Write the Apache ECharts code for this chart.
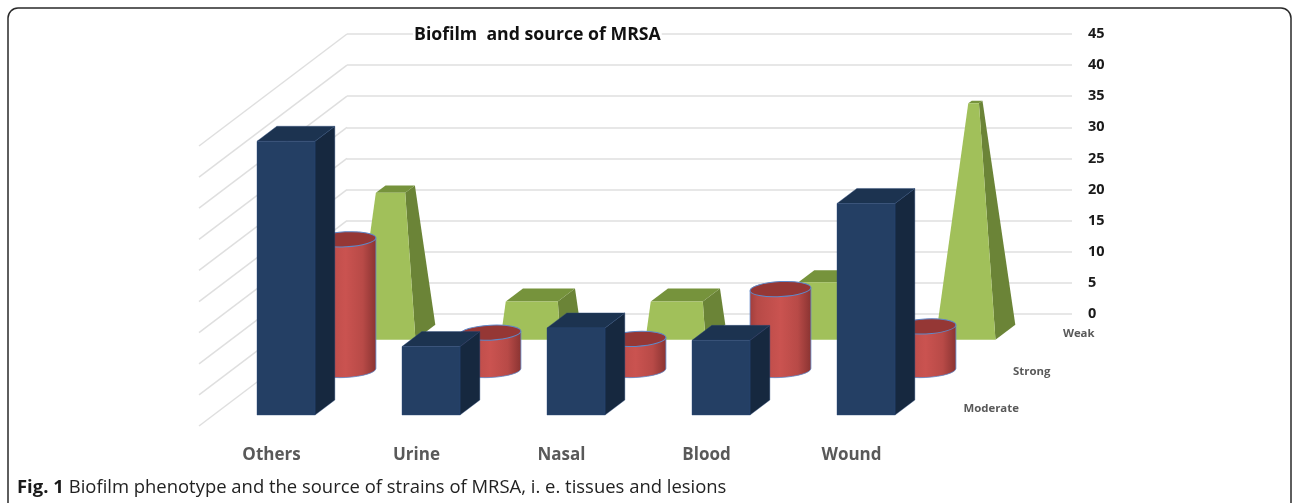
<!DOCTYPE html>
<html>
<head>
<meta charset="utf-8">
<style>html,body{margin:0;padding:0;background:#fff}#c{width:1295px;height:503px}</style>
<script src="https://cdn.jsdelivr.net/npm/echarts@6/dist/echarts.min.js"></script>
</head>
<body>
<div id="c"></div>
<script>
var categories = ['Others', 'Urine', 'Nasal', 'Blood', 'Wound'];
var depthNames = ['Moderate', 'Strong', 'Weak'];
var moderate = [44, 11, 14, 12, 34];
var strong = [21, 6, 5, 13, 7];
var weak = [23, 6, 6, 9, 37];
var yTicks = [0, 5, 10, 15, 20, 25, 30, 35, 40, 45];
var yMax = 45;

var WALL_DX = 148, WALL_DY = 112;
var DEPTH_CENTRE = [0.165, 0.5, 0.837];
var THICK = 0.134;

function point(cx, baseY, valY, u, d) {
  return [cx + u + d * WALL_DX, valY - d * WALL_DY];
}

function prism(widthRatio, depthCentre, taper, cols) {
  return function (params, api) {
    var i = api.value(0), v = api.value(1);
    var c0 = api.coord([i, 0]), c1 = api.coord([i, v]);
    var band = api.size([1, 0])[0];
    var hw = band * widthRatio / 2;
    var f = taper ? 1 - v / yMax : 1;
    var cx = c0[0];
    var dFront = depthCentre - THICK / 2, dBack = depthCentre + THICK / 2;
    var dTF = depthCentre - THICK / 2 * f, dTB = depthCentre + THICK / 2 * f;
    var A = point(cx, 0, c0[1], -hw, dFront), B = point(cx, 0, c0[1], hw, dFront), C = point(cx, 0, c0[1], hw, dBack);
    var D = point(cx, 0, c1[1], -hw * f, dTF), E = point(cx, 0, c1[1], hw * f, dTF);
    var F = point(cx, 0, c1[1], hw * f, dTB), G = point(cx, 0, c1[1], -hw * f, dTB);
    return {
      type: 'group',
      children: [
        { type: 'polygon', shape: { points: [B, C, F, E] }, style: { fill: cols.side, stroke: cols.edge, lineWidth: cols.lw } },
        { type: 'polygon', shape: { points: [D, E, F, G] }, style: { fill: cols.top, stroke: cols.edge, lineWidth: cols.lw } },
        { type: 'polygon', shape: { points: [A, B, E, D] }, style: { fill: cols.front, stroke: cols.edge, lineWidth: cols.lw } }
      ]
    };
  };
}

function cylinder(widthRatio, depthCentre) {
  var tilt = 3 * Math.PI / 180, ry = 7.5;
  return function (params, api) {
    var i = api.value(0), v = api.value(1);
    var c0 = api.coord([i, 0]), c1 = api.coord([i, v]);
    var rx = api.size([1, 0])[0] * widthRatio / 2;
    var cx = c0[0] + depthCentre * WALL_DX;
    var yB = c0[1] - depthCentre * WALL_DY, yT = c1[1] - depthCentre * WALL_DY;
    var ox = rx * Math.cos(tilt), oy = rx * Math.sin(tilt);
    var path = 'M' + (cx - ox) + ' ' + (yT + oy) + ' L' + (cx - ox) + ' ' + (yB + oy) +
      ' A' + rx + ' ' + ry + ' -3 0 0 ' + (cx + ox) + ' ' + (yB - oy) +
      ' L' + (cx + ox) + ' ' + (yT - oy) + ' Z';
    return {
      type: 'group',
      children: [
        { type: 'path', shape: { pathData: path, layout: 'none' }, style: {
          stroke: '#5f88c8', lineWidth: 0.8,
          fill: { type: 'linear', x: 0, y: 0, x2: 1, y2: 0, colorStops: [
            { offset: 0, color: '#a03e3c' }, { offset: 0.12, color: '#b74a47' }, { offset: 0.5, color: '#ca5350' },
            { offset: 0.78, color: '#b84a47' }, { offset: 1, color: '#893331' }] }
        } },
        { type: 'ellipse', shape: { cx: cx, cy: yT, rx: rx, ry: ry }, rotation: tilt, originX: cx, originY: yT,
          style: { fill: '#953735', stroke: '#5f88c8', lineWidth: 1 } }
      ]
    };
  };
}

function pairs(arr) { return arr.map(function (v, i) { return [i, v]; }); }

var option = {
  animation: false,
  backgroundColor: '#fff',
  title: [
    { text: 'Biofilm  and source of MRSA', left: 413, top: 24.5, padding: [0, 1],
      backgroundColor: '#fff',
      textStyle: { fontFamily: 'Open Sans', fontWeight: 'bold', fontSize: 17.7, color: '#111', lineHeight: 20 } },
    { text: '{b|Fig. 1} {r|Biofilm phenotype and the source of strains of MRSA, i. e. tissues and lesions}',
      left: 17, top: 478.5, padding: 0,
      textStyle: { fontWeight: 'normal', rich: {
        b: { fontFamily: 'Open Sans', fontWeight: 'bold', fontSize: 18.45, color: '#1a1a1a' },
        r: { fontFamily: 'Open Sans', fontWeight: 'normal', fontSize: 18.45, color: '#222' } } } }
  ],
  grid: [
    { left: 347, right: 223, top: 34, bottom: 189 },
    { left: 199, right: 371, top: 146, bottom: 77 }
  ],
  xAxis: [
    { gridIndex: 0, type: 'category', data: categories, show: false },
    { gridIndex: 1, type: 'category', data: categories,
      axisLine: { show: false }, axisTick: { show: false },
      axisLabel: { margin: 21, fontFamily: 'Open Sans', fontWeight: 'bold', fontSize: 17, color: '#595959' } }
  ],
  yAxis: [
    { gridIndex: 0, type: 'value', min: 0, max: yMax, interval: 5, position: 'right',
      axisLine: { show: false }, axisTick: { show: false },
      axisLabel: { margin: 16, fontFamily: 'Open Sans', fontWeight: 'bold', fontSize: 14.5, color: '#1a1a1a' },
      splitLine: { show: true, lineStyle: { color: '#dfdfdf', width: 1.5 } } },
    { gridIndex: 1, type: 'value', min: 0, max: yMax, interval: 5, show: false, splitLine: { show: false } }
  ],
  graphic: [
    { type: 'rect', shape: { x: 8, y: 8, width: 1283, height: 520, r: 10 },
      style: { fill: 'none', stroke: '#2a2a2a', lineWidth: 1.5 }, silent: true }
  ],
  series: [
    { type: 'custom', name: 'Wall', xAxisIndex: 0, yAxisIndex: 0, clip: false, silent: true,
      data: yTicks.map(function (t) { return [0, t]; }),
      renderItem: function (params, api) {
        var y = api.coord([0, api.value(1)])[1], x = params.coordSys.x;
        return { type: 'line', shape: { x1: x, y1: y, x2: x - WALL_DX, y2: y + WALL_DY },
          style: { stroke: '#dfdfdf', lineWidth: 1.5 } };
      } },
    { type: 'custom', name: 'Weak', xAxisIndex: 1, yAxisIndex: 1, clip: false, silent: true,
      data: pairs(weak),
      renderItem: prism(0.414, DEPTH_CENTRE[2], true, { front: '#a1c05a', side: '#6b8437', top: '#76933c', edge: 'none', lw: 0 }) },
    { type: 'custom', name: 'Strong', xAxisIndex: 1, yAxisIndex: 1, clip: false, silent: true,
      data: pairs(strong),
      renderItem: cylinder(0.42, DEPTH_CENTRE[1]) },
    { type: 'custom', name: 'Moderate', xAxisIndex: 1, yAxisIndex: 1, clip: false, silent: true,
      data: pairs(moderate),
      renderItem: prism(0.4, DEPTH_CENTRE[0], false, { front: '#243f64', side: '#16283f', top: '#1c3350', edge: '#2a4a78', lw: 0.4 }) },
    { type: 'custom', name: 'DepthAxis', xAxisIndex: 1, yAxisIndex: 1, clip: false, silent: true,
      data: depthNames.map(function (n, i) { return [i, 0]; }),
      renderItem: function (params, api) {
        var i = api.value(0), cs = params.coordSys, d = DEPTH_CENTRE[i];
        return { type: 'text', style: {
          x: cs.x + cs.width + d * WALL_DX + 15,
          y: cs.y + cs.height - d * WALL_DY + 1.5,
          text: depthNames[i], fill: '#595959', textAlign: 'left', textVerticalAlign: 'middle',
          font: 'bold 11.4px "Open Sans"' } };
      } }
  ]
};
echarts.init(document.getElementById('c'), null, { renderer: 'canvas' }).setOption(option);
</script>
</body>
</html>
